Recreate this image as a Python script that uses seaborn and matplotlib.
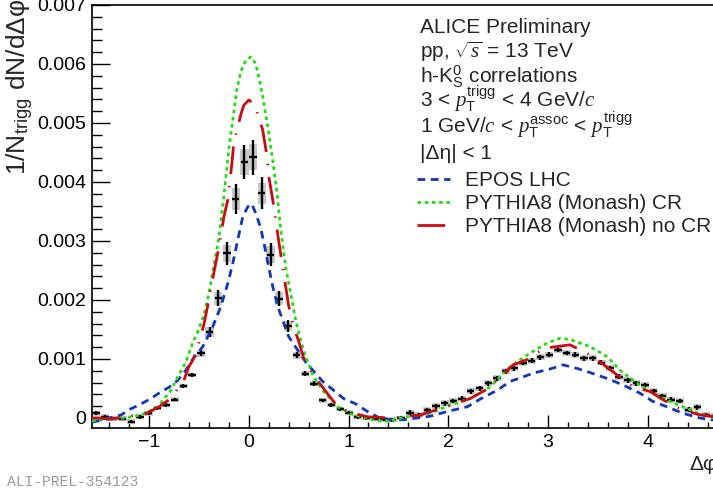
import numpy as np
import pandas as pd
import matplotlib
matplotlib.use("Agg")
import matplotlib.pyplot as plt
import seaborn as sns
from matplotlib.ticker import MultipleLocator, FuncFormatter

# ---------------- data ----------------
n_bins = 72
phi_lo, phi_hi = -np.pi / 2, 3 * np.pi / 2

data_val = [0.00008, 0.00002, -0.00001, -0.00001, -0.00006, 0.00002, 0.00008, 0.00017, 0.00022, 0.00031,
            0.00054, 0.00073, 0.00110, 0.00146, 0.00203, 0.00279, 0.00371, 0.00434, 0.00442, 0.00381,
            0.00277, 0.00202, 0.00156, 0.00106, 0.00075, 0.00058, 0.00030, 0.00022, 0.00015, 0.00009,
            0.00002, 0.00000, -0.00001, -0.00002, -0.00003, 0.00000, 0.00009, 0.00005, 0.00013, 0.00020,
            0.00025, 0.00029, 0.00033, 0.00045, 0.00050, 0.00059, 0.00067, 0.00079, 0.00084, 0.00093,
            0.00097, 0.00103, 0.00107, 0.00115, 0.00110, 0.00107, 0.00101, 0.00101, 0.00094, 0.00084,
            0.00070, 0.00064, 0.00059, 0.00056, 0.00045, 0.00037, 0.00031, 0.00029, 0.00014, 0.00018,
            0.00005, 0.00003]
stat_err = [0.00003] * 10 + [0.00004, 0.00004, 0.00005, 0.00008, 0.00014, 0.00020, 0.00026, 0.00029, 0.00030,
            0.00027, 0.00020, 0.00013, 0.00010, 0.00005, 0.00004, 0.00004] + [0.00003] * 10 + [0.00004] * 36
sys_err = [0.00004] * 12 + [0.00006, 0.00008, 0.00011, 0.00014, 0.00018, 0.00022, 0.00022, 0.00018, 0.00014,
           0.00011, 0.00008, 0.00006] + [0.00004] * 12 + [0.00005] * 36

epos_phi = [-1.57, -1.51, -1.40, -1.28, -1.20, -1.10, -1.00, -0.90, -0.80, -0.71,
            -0.63, -0.56, -0.46, -0.36, -0.28, -0.21, -0.16, -0.11, -0.06, -0.01,
            0.03, 0.07, 0.12, 0.16, 0.20, 0.24, 0.29, 0.34, 0.40, 0.49,
            0.57, 0.74, 0.85, 0.95, 1.07, 1.19, 1.30, 1.42, 1.55, 1.69,
            1.82, 1.99, 2.19, 2.32, 2.49, 2.62, 2.74, 2.85, 3.02, 3.15,
            3.29, 3.42, 3.59, 3.75, 3.92, 4.05, 4.19, 4.35, 4.52, 4.62, 4.71]
epos_val = [-0.00007, -0.00005, 0.0, 0.00005, 0.00014, 0.00022, 0.00031, 0.00042, 0.00052, 0.00064,
            0.00081, 0.00100, 0.00121, 0.00155, 0.00189, 0.00228, 0.00262, 0.00302, 0.00341, 0.00358,
            0.00363, 0.00347, 0.00322, 0.00290, 0.00256, 0.00223, 0.00189, 0.00166, 0.00138, 0.00115,
            0.00095, 0.00062, 0.00047, 0.00033, 0.00024, 0.00011, 0.00001, -0.00003, -0.00003, 0.0,
            0.00003, 0.00011, 0.00019, 0.00032, 0.00047, 0.00062, 0.00069, 0.00076, 0.00083, 0.00090,
            0.00084, 0.00077, 0.00067, 0.00056, 0.00042, 0.00028, 0.00019, 0.00008, 0.0, -0.00003, -0.00004]

cr_phi = [-1.57, -1.40, -1.25, -1.08, -0.91, -0.78, -0.71, -0.63, -0.56, -0.50,
          -0.45, -0.40, -0.35, -0.30, -0.25, -0.20, -0.16, -0.12, -0.08, -0.03,
          0.02, 0.06, 0.09, 0.14, 0.19, 0.24, 0.28, 0.32, 0.37, 0.42,
          0.47, 0.52, 0.57, 0.65, 0.75, 0.89, 1.02, 1.15, 1.29, 1.42,
          1.55, 1.69, 1.82, 2.02, 2.22, 2.42, 2.62, 2.82, 2.99, 3.12,
          3.22, 3.42, 3.59, 3.72, 3.89, 4.05, 4.22, 4.39, 4.55, 4.64, 4.71]
cr_val = [-0.00005, -0.00002, 0.0, 0.00005, 0.00019, 0.00047, 0.00070, 0.00095, 0.00128, 0.00150,
          0.00175, 0.00210, 0.00258, 0.00305, 0.00375, 0.00455, 0.00505, 0.00556, 0.00587, 0.00606,
          0.00612, 0.00603, 0.00587, 0.00545, 0.00494, 0.00437, 0.00386, 0.00320, 0.00256, 0.00211,
          0.00166, 0.00132, 0.00104, 0.00070, 0.00045, 0.00019, 0.00007, 0.00001, -0.00005, -0.00005,
          0.00001, 0.00005, 0.00008, 0.00022, 0.00033, 0.00053, 0.00087, 0.00110, 0.00127, 0.00135,
          0.00133, 0.00121, 0.00104, 0.00081, 0.00059, 0.00042, 0.00028, 0.00016, 0.00005, 0.00002, 0.0]

nocr_phi = [-1.57, -1.50, -1.40, -1.27, -1.02, -0.90, -0.78, -0.65, -0.60, -0.56,
            -0.52, -0.45, -0.40, -0.35, -0.30, -0.25, -0.21, -0.17, -0.15, -0.08,
            -0.05, 0.0, 0.05, 0.10, 0.14, 0.18, 0.20, 0.25, 0.30, 0.35,
            0.40, 0.45, 0.50, 0.55, 0.65, 0.75, 0.84, 0.89, 1.02, 1.19,
            1.42, 1.72, 1.92, 2.22, 2.39, 2.65, 2.82, 2.95, 3.22, 3.45,
            3.69, 3.85, 4.02, 4.15, 4.32, 4.50, 4.71]
nocr_val = [0.0, 0.0, -0.00002, 0.00001, 0.00008, 0.00019, 0.00033, 0.00064, 0.00087, 0.00098,
            0.00115, 0.00158, 0.00200, 0.00246, 0.00288, 0.00340, 0.00370, 0.00430, 0.00466, 0.00514,
            0.00530, 0.00539, 0.00533, 0.00510, 0.00488, 0.00446, 0.00410, 0.00360, 0.00300, 0.00245,
            0.00190, 0.00155, 0.00130, 0.00102, 0.00072, 0.00050, 0.00030, 0.00020, 0.00009, 0.00002,
            0.0, 0.00005, 0.00016, 0.00033, 0.00049, 0.00090, 0.00101, 0.00118, 0.00124, 0.00104,
            0.00073, 0.00053, 0.00045, 0.00031, 0.00016, 0.00006, 0.00001]

model_names = ["EPOS LHC", "PYTHIA8 (Monash) CR", "PYTHIA8 (Monash) no CR"]
x_ticks = [-1, 0, 1, 2, 3, 4]
y_ticks = [0, 0.001, 0.002, 0.003, 0.004, 0.005, 0.006, 0.007]

# ---------------- style ----------------
sns.set_style("ticks")
plt.rcParams["font.family"] = ["Liberation Sans", "DejaVu Sans"]
plt.rcParams["mathtext.fontset"] = "custom"
plt.rcParams["mathtext.rm"] = "Liberation Sans"
plt.rcParams["mathtext.sf"] = "Liberation Sans"
plt.rcParams["mathtext.it"] = "Liberation Serif:italic"
plt.rcParams["mathtext.bf"] = "Liberation Sans:bold"

W, H = 713, 492
fig = plt.figure(figsize=(W / 100, H / 100), dpi=100)
fig.patch.set_facecolor("white")
ax = fig.add_axes([92 / W, 1 - 428 / H, 627 / W, 423 / H])
ax.set_facecolor("white")

bin_w = (phi_hi - phi_lo) / n_bins
phi_c = phi_lo + (np.arange(n_bins) + 0.5) * bin_w
vals = np.array(data_val)
serr = np.array(sys_err)

# systematic boxes
ax.bar(phi_c, 2 * serr, bottom=vals - serr, width=bin_w * 0.95,
       color="#c8c8c8", edgecolor="none", zorder=1)
# statistical error bars
ax.errorbar(phi_c, vals, yerr=stat_err, xerr=bin_w * 0.42, fmt="none",
            ecolor="black", elinewidth=1.7, capsize=0, zorder=2)

models = pd.concat([
    pd.DataFrame({"phi": epos_phi, "val": epos_val, "model": model_names[0]}),
    pd.DataFrame({"phi": cr_phi, "val": cr_val, "model": model_names[1]}),
    pd.DataFrame({"phi": nocr_phi, "val": nocr_val, "model": model_names[2]}),
], ignore_index=True)

palette = {model_names[0]: "#1036c0", model_names[1]: "#22dd11", model_names[2]: "#cc0a14"}
dashes = {model_names[0]: (2.8, 2.0), model_names[1]: (1.3, 1.3), model_names[2]: (10, 4.3, 0.5, 4.3)}
sns.lineplot(data=models, x="phi", y="val", hue="model", style="model",
             palette=palette, dashes=dashes, estimator=None, sort=True,
             linewidth=2.0, ax=ax, zorder=3, legend=False)

ax.set_xlim(phi_lo, phi_hi)
ax.set_ylim(-0.00017, 0.007)
ax.set_xticks(x_ticks)
ax.set_yticks(y_ticks)
ax.xaxis.set_minor_locator(MultipleLocator(0.2))
ax.yaxis.set_minor_locator(MultipleLocator(0.0002))
ax.yaxis.set_major_formatter(FuncFormatter(lambda v, p: "0" if abs(v) < 1e-9 else f"{v:.3f}"))
ax.xaxis.set_major_formatter(FuncFormatter(lambda v, p: f"{v:.0f}".replace("-", "\u2212")))
ax.tick_params(axis="both", which="both", direction="in", width=1.0, colors="black",
               labelsize=14, top=False, right=False)
ax.tick_params(axis="x", which="major", length=9.5, pad=4)
ax.tick_params(axis="x", which="minor", length=4.5)
ax.tick_params(axis="y", which="major", length=13, pad=4)
ax.tick_params(axis="y", which="minor", length=7)
for s in ax.spines.values():
    s.set_color("black")
    s.set_linewidth(1.2)
ax.set_xlabel("")
ax.set_ylabel("")

# axis titles
fig.text(20 / W, 1 + 1 / H, r"1/N$_{\rm trigg}$ dN/dΔφ", rotation=90,
         ha="center", va="top", fontsize=19)
fig.text(689 / W, 1 - 470 / H, "Δφ", ha="left", va="baseline", fontsize=15)
fig.text(7 / W, 1 - 486 / H, "ALI-PREL-354123", ha="left", va="baseline",
         fontsize=10.5, color="#9a9a9a", family="Liberation Mono")

# label block
tx = 420 / W
lines = [
    (33, "ALICE Preliminary"),
    (58, r"pp, $\sqrt{s}$ = 13 TeV"),
    (83, r"h-K$^{0}_{\rm S}$ correlations"),
    (106, r"3 < $p_{\rm T}^{\rm trigg}$ < 4 GeV/$c$"),
    (133, r"1 GeV/$c$ < $p_{\rm T}^{\rm assoc}$ < $p_{\rm T}^{\rm trigg}$"),
    (159, "|Δη| < 1"),
]
for ybl, s in lines:
    fig.text(tx, 1 - ybl / H, s, ha="left", va="baseline", fontsize=15)

# legend from the drawn model lines
handles = ax.get_lines()[-3:]
leg = ax.legend(handles, model_names, loc="upper left",
                bbox_to_anchor=(417 / W, 1 - 171 / H), bbox_transform=fig.transFigure,
                frameon=False, fontsize=15, handlelength=1.6, handletextpad=0.7,
                borderpad=0, borderaxespad=0, labelspacing=0.2)

fig.savefig("out.png", dpi=100, facecolor="white")
